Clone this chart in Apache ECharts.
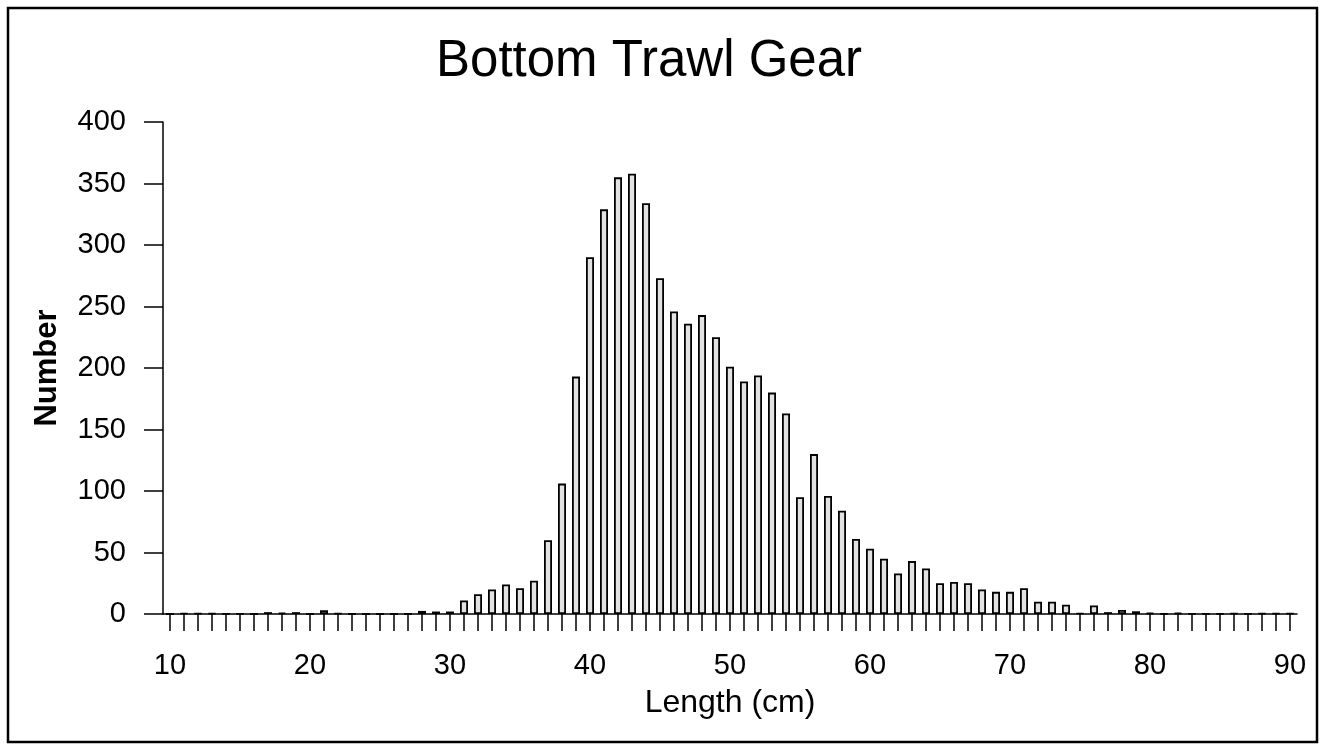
<!DOCTYPE html>
<html>
<head>
<meta charset="utf-8">
<script src="https://cdn.jsdelivr.net/npm/echarts@6/dist/echarts.min.js"></script>
<style>
html,body{margin:0;padding:0;background:#fff;}
#chart{width:1325px;height:751px;}
</style>
</head>
<body>
<div id="chart"></div>
<script>
// Length classes (cm)
const lengths = [];
for (let L = 10; L <= 90; L++) lengths.push(String(L));

// Number of fish per length class (10..90 cm)
const counts = [
  0, 0.5, 0.5, 0.5, 0.3, 0.3, 0, 1.5, 1, 1.5,      // 10-19
  0, 3, 0.5, 0, 0, 0, 0, 0, 2.5, 2,                // 20-29
  2, 11, 16, 20, 24, 21, 27, 60, 106, 193,         // 30-39
  290, 329, 355, 358, 334, 273, 246, 236, 243, 225, // 40-49
  201, 189, 194, 180, 163, 95, 130, 96, 84, 61,     // 50-59
  53, 45, 33, 43, 37, 25, 26, 25, 20, 18,           // 60-69
  18, 21, 10, 10, 7.5, 0.5, 7, 1.5, 3.2, 2.2,       // 70-79
  0.8, 0.3, 0.8, 0.3, 0.3, 0.3, 0.5, 0.3, 0.5, 0.5, // 80-89
  0.5                                               // 90
];

const yTicks = [0, 50, 100, 150, 200, 250, 300, 350, 400];
const titleText = 'Bottom Trawl Gear';
const xName = 'Length (cm)';
const yName = 'Number';

const FONT = '"Liberation Sans", Arial, sans-serif';
const chart = echarts.init(document.getElementById('chart'), null, {renderer: 'canvas'});
chart.setOption({
  backgroundColor: '#ffffff',
  animation: false,
  title: {
    text: titleText,
    left: 431,
    top: 31,
    textStyle: {fontFamily: FONT, fontSize: 51, fontWeight: 'normal', color: '#000'}
  },
  grid: {left: 163, right: 28, top: 122, bottom: 137, containLabel: false},
  xAxis: {
    type: 'category',
    data: lengths,
    boundaryGap: true,
    name: xName,
    nameLocation: 'middle',
    nameGap: 73,
    nameTextStyle: {fontFamily: FONT, fontSize: 32, color: '#000'},
    axisLine: {lineStyle: {color: '#000', width: 1.5}},
    axisTick: {show: true, alignWithLabel: true, interval: 0, length: 17, lineStyle: {color: '#000', width: 1.5}},
    axisLabel: {
      interval: 9,
      margin: 37,
      fontFamily: FONT, fontSize: 29, color: '#000'
    },
    splitLine: {show: false}
  },
  yAxis: {
    type: 'value',
    min: yTicks[0],
    max: yTicks[yTicks.length - 1],
    interval: 50,
    name: yName,
    nameLocation: 'middle',
    nameGap: 100,
    nameRotate: 90,
    nameTextStyle: {fontFamily: FONT, fontSize: 31, fontWeight: 'bold', color: '#000'},
    axisLine: {show: true, lineStyle: {color: '#000', width: 1.5}},
    axisTick: {show: true, inside: false, length: 19, lineStyle: {color: '#000', width: 1.5}},
    axisLabel: {margin: 37, fontFamily: FONT, fontSize: 29, color: '#000'},
    splitLine: {show: false}
  },
  series: [{
    type: 'bar',
    data: counts,
    barWidth: 8,
    itemStyle: {color: '#e2e2e2', borderColor: '#000', borderWidth: 1.8}
  }],
  graphic: [{
    type: 'rect',
    shape: {x: 8, y: 8, width: 1309, height: 734},
    style: {fill: 'none', stroke: '#000', lineWidth: 2.5},
    silent: true
  }]
});
</script>
</body>
</html>
